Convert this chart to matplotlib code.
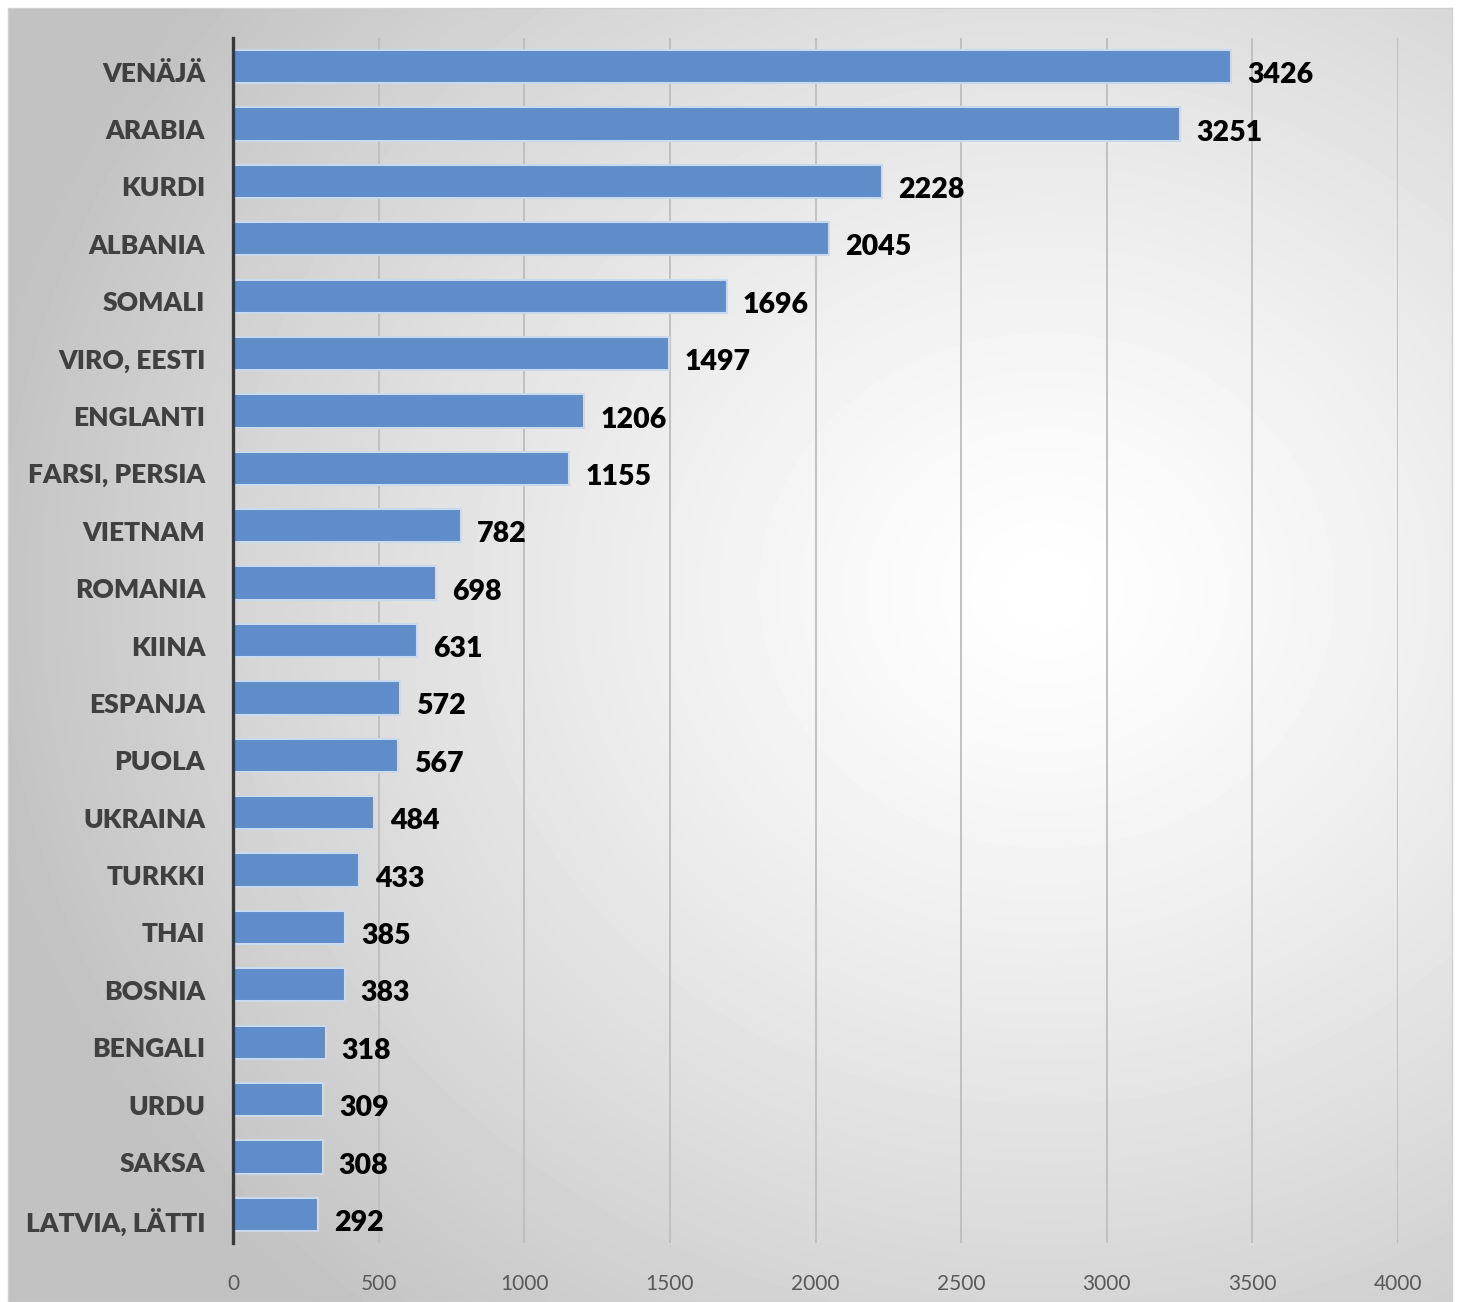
import numpy as np
import matplotlib.pyplot as plt
import matplotlib.transforms as mtransforms

kielet = ["VENÄJÄ", "ARABIA", "KURDI", "ALBANIA", "SOMALI", "VIRO, EESTI", "ENGLANTI",
          "FARSI, PERSIA", "VIETNAM", "ROMANIA", "KIINA", "ESPANJA", "PUOLA", "UKRAINA",
          "TURKKI", "THAI", "BOSNIA", "BENGALI", "URDU", "SAKSA", "LATVIA, LÄTTI"]
maarat = [3426, 3251, 2228, 2045, 1696, 1497, 1206, 1155, 782, 698, 631, 572, 567, 484,
          433, 385, 383, 318, 309, 308, 292]
xtiikit = [0, 500, 1000, 1500, 2000, 2500, 3000, 3500, 4000]

plt.rcParams['font.family'] = ['Lato', 'DejaVu Sans']

W, H = 1458, 1302
fig = plt.figure(figsize=(W / 100, H / 100), dpi=100)

# taustan liukuväri (harmaa reunoilla, valkoinen keskellä oikealla)
bg = fig.add_axes([8 / W, 0, 1444 / W, 1 - 8 / H])
yy, xx = np.mgrid[0:1:300j, 0:1:300j]
r = np.sqrt(((xx - 0.72) / 0.75) ** 2 + ((yy - 0.45) / 0.75) ** 2)
val = 1 - 0.24 * np.clip(r, 0, 1) ** 1.3
bg.imshow(val, cmap='gray', vmin=0, vmax=1, aspect='auto', extent=[0, 1, 0, 1], interpolation='bilinear')
bg.set_xticks([])
bg.set_yticks([])
for s in bg.spines.values():
    s.set_color('#d0d0d0')
    s.set_linewidth(1)

ax = fig.add_axes([233 / W, 1 - 1243 / H, (1398 - 233) / W, (1243 - 38) / H])
ax.patch.set_alpha(0)

y = np.arange(len(kielet))
ax.barh(y, maarat, height=0.58, color='#5f8dca', edgecolor='#c9d9ee', linewidth=1.5, zorder=3)

for yi, v in zip(y, maarat):
    ax.text(v + 55, yi + 0.15, str(v), fontsize=20.5, fontweight='heavy', color='black',
            va='center', ha='left', zorder=4)

ax.set_xlim(0, 4000)
ax.set_ylim(20.5, -0.5)
ax.set_xticks(xtiikit)
ax.set_xticklabels([str(t) for t in xtiikit])
ax.set_yticks(y)
ax.set_yticklabels(kielet)
ax.tick_params(axis='x', length=0, pad=22, labelsize=15, labelcolor='#595959')
ax.tick_params(axis='y', length=0, pad=20, labelsize=19, labelcolor='#404040')
siirto = mtransforms.ScaledTranslation(0, -5 / 100, fig.dpi_scale_trans)
for lab in ax.get_yticklabels():
    lab.set_fontweight('heavy')
    lab.set_transform(lab.get_transform() + siirto)

ax.grid(axis='x', color='#bdbdbd', linewidth=1.3, zorder=0)
for s in ['top', 'right', 'bottom']:
    ax.spines[s].set_visible(False)
ax.spines['left'].set_color('#3a3a3a')
ax.spines['left'].set_linewidth(2.4)
ax.spines['left'].set_zorder(5)

fig.savefig("out.png", dpi=100)
